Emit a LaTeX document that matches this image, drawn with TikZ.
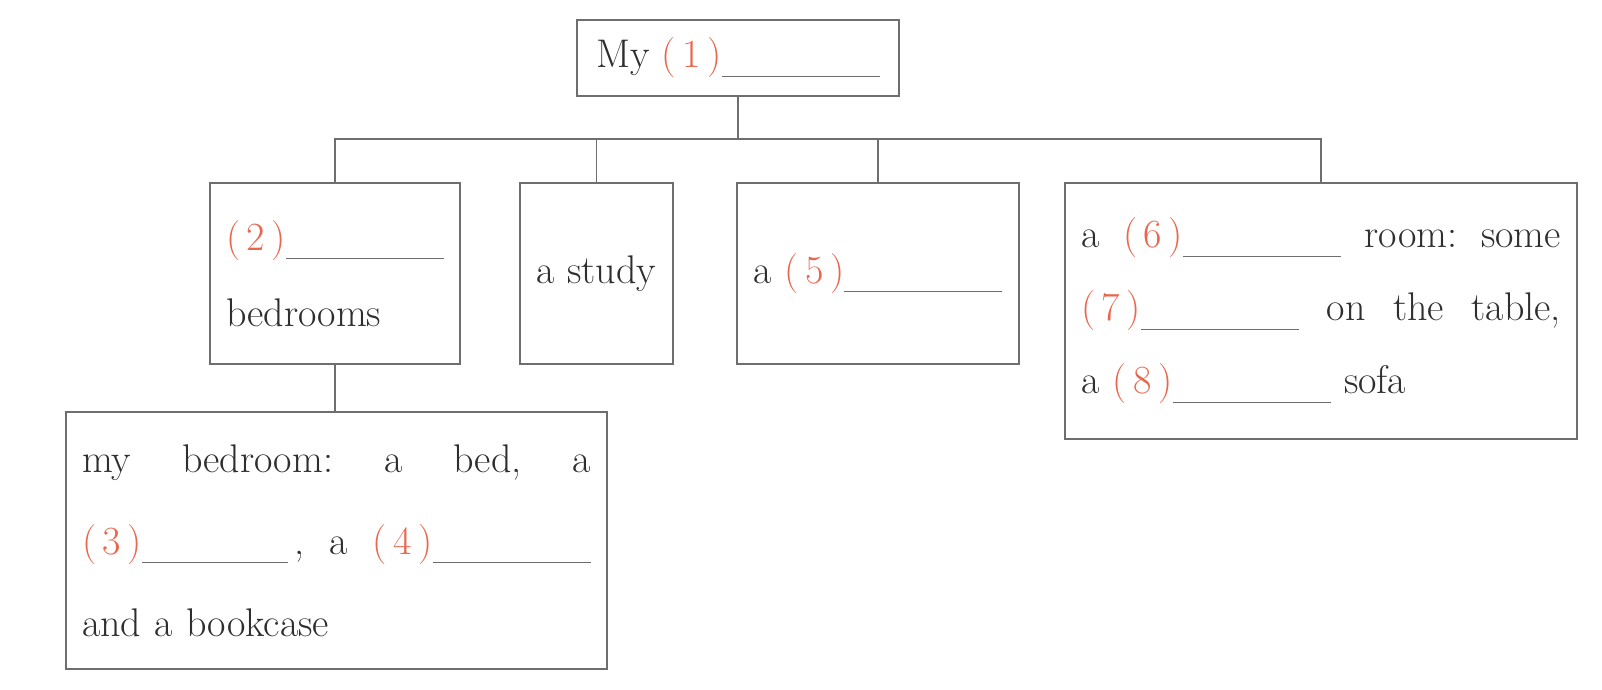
\documentclass[tikz,border=0pt]{standalone}
\usepackage{fontspec}
\usepackage{xcolor}
\usetikzlibrary{positioning}
\definecolor{ink}{HTML}{2E2E2E}
\definecolor{rulegray}{HTML}{6E6E6E}
\definecolor{slotred}{HTML}{E8674E}
\newcommand{\fillin}[1][79pt]{\textcolor{rulegray}{\rule[-4.5pt]{#1}{0.7pt}}}
\newcommand{\gapnum}[1]{\textcolor{slotred}{(\,#1\,)}}
\tikzset{
  mapbox/.style={
    draw=rulegray, line width=0.9pt, text=ink,
    inner xsep=8pt, inner ysep=0pt,
    font=\fontsize{20}{41}\selectfont
  },
  listbox/.style={mapbox, align=left},
  link/.style={draw=rulegray, line width=0.9pt}
}

\begin{document}
\begin{tikzpicture}[x=0.5pt,y=-0.5pt]
  \useasboundingbox (0,0) rectangle (1602,690);
  % top of the map
  \node[mapbox,minimum width=161pt,minimum height=38pt] (home) at (738,58)
    {My \gapnum{1}\fillin};
  % second row
  \node[listbox,text width=109pt,minimum height=90.5pt,
        font=\fontsize{20}{38}\selectfont] (bedrooms) at (335,273.5)
    {\gapnum{2}\fillin\\ bedrooms};
  \node[mapbox,minimum width=76.5pt,minimum height=90.5pt] (study) at (596.5,273.5)
    {a study};
  \node[mapbox,minimum width=141pt,minimum height=90.5pt] (fifth) at (878,273.5)
    {a \gapnum{5}\fillin};
  \node[listbox,text width=240pt,minimum height=128pt,
        font=\fontsize{20}{36.5}\selectfont] (living) at (1321,311)
    {a\hfill\gapnum{6}\fillin\hfill room:\hfill some\\
     \gapnum{7}\fillin\hfill on\hfill the\hfill table,\\
     a \gapnum{8}\fillin\ sofa};
  % under the bedrooms
  \node[listbox,text width=254.5pt,minimum height=128.5pt] (mine) at (336.5,540.5)
    {my\hfill bedroom:\hfill a\hfill bed,\hfill a\\
     \gapnum{3}\fillin[73pt]\,,\hfill a\hfill\gapnum{4}\fillin\\
     and a bookcase};

  \coordinate (bus) at (738,139);
  \draw[link] (home.south) -- (home.south |- bus);
  \draw[link] (bedrooms.north) -- (bedrooms.north |- bus) -| (living.north);
  \foreach \n in {study,fifth}
    \draw[link] (\n.north) -- (\n.north |- bus);
  \draw[link] (bedrooms.south) -- (bedrooms.south |- mine.north);
\end{tikzpicture}
\end{document}
